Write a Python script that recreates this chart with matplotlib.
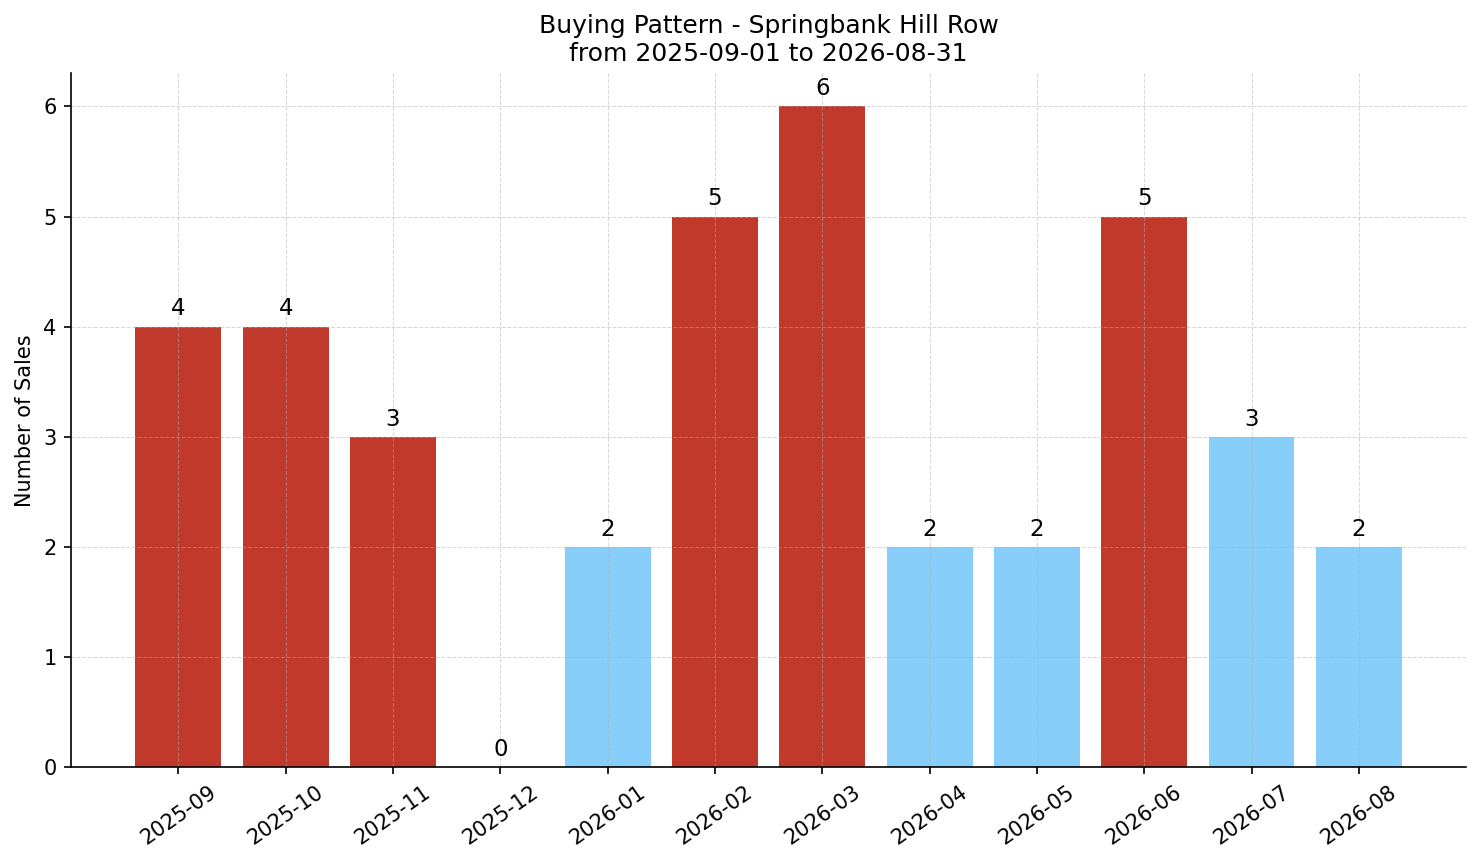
import matplotlib
matplotlib.use("Agg")
import matplotlib.pyplot as plt

months = ["2025-09", "2025-10", "2025-11", "2025-12", "2026-01", "2026-02",
          "2026-03", "2026-04", "2026-05", "2026-06", "2026-07", "2026-08"]
sales = [4, 4, 3, 0, 2, 5, 6, 2, 2, 5, 3, 2]
high = [True, True, True, True, False, True, True, False, False, True, False, False]

RED = "#c0392b"
BLUE = "#87cefa"

fig = plt.figure(figsize=(1481 / 150, 863 / 150), dpi=150)
ax = fig.add_axes([0.048, 0.111, 0.942, 0.804])

colors = [RED if h else BLUE for h in high]
x = list(range(len(months)))
ax.bar(x, sales, width=0.8, color=colors)
for xi, v in zip(x, sales):
    ax.annotate(str(v), (xi, v), xytext=(0, 3), textcoords="offset points",
                ha="center", va="bottom", fontsize=11)

ax.set_xticks(x)
ax.set_xticklabels(months, rotation=35)
ax.set_xlim(-1, 12)
ax.set_ylim(0, 6.3)
ax.set_ylabel("Number of Sales")
ax.set_title("Buying Pattern - Springbank Hill Row\nfrom 2025-09-01 to 2026-08-31", fontsize=12)
ax.grid(True, linestyle="--", linewidth=0.5, alpha=0.5)
ax.spines["top"].set_visible(False)
ax.spines["right"].set_visible(False)

fig.savefig("out.png", dpi=150)
